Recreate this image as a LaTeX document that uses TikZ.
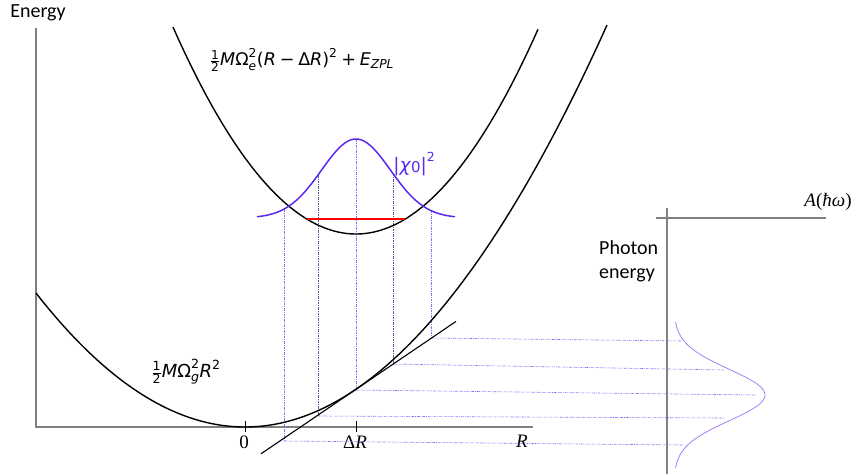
\documentclass[tikz,border=0pt]{standalone}
\usepackage{amsmath}
\usepackage{fontspec}
\setmainfont{Carlito}
\newfontfamily\dv{DejaVu Sans}
\newfontfamily\ser{Liberation Serif}
\newcommand\upt[1]{\text{\dv #1}}
\newcommand\itt[1]{\text{\dv\itshape #1}}
\definecolor{chi}{RGB}{90,40,240}
\definecolor{spec}{RGB}{165,125,250}
\definecolor{dotb}{RGB}{120,120,250}
\definecolor{dotd}{RGB}{90,90,150}
\definecolor{axg}{RGB}{128,128,128}
\tikzset{
  curve/.style={black, line width=1.4pt},
  axisline/.style={axg, line width=1.8pt},
  dotline/.style={dotb, line width=0.6pt, dash pattern=on 2.5pt off 1.2pt on 0.6pt off 1.2pt},
  dotdark/.style={dotd, line width=0.6pt, dash pattern=on 2.5pt off 1.2pt on 0.6pt off 1.2pt},
  lbl/.style={inner sep=0pt, font=\fontsize{20}{24}\selectfont},
  serlbl/.style={inner sep=0pt, font=\ser\fontsize{19}{22}\selectfont},
}
\begin{document}
\begin{tikzpicture}[x=1pt,y=-1pt]
\useasboundingbox (0,0) rectangle (856,474);
% axes
\coordinate (eTop) at (36,28);
\coordinate (origin) at (36,427);
\coordinate (rEnd) at (533,427);
\draw[axisline] (eTop) -- (origin) -- (rEnd);
\node[lbl] (energy) at (38,13) {Energy};
% ticks
\coordinate (t0a) at (245,421); \coordinate (t0b) at (245,432);
\coordinate (t1a) at (356,421); \coordinate (t1b) at (356,432);
\draw[black, line width=1pt] (t0a) -- (t0b) (t1a) -- (t1b);
\node[serlbl] (zero) at (244,442) {0};
\node[serlbl] (dR) at (355,442) {Δ\textit{R}};
\node[serlbl] (Rlab) at (522,441) {\textit{R}};
% dotted projection lines
\coordinate (g1) at (284,209.1); \coordinate (l1) at (284,441); \coordinate (r1) at (682,445);
\coordinate (g2) at (318,175);   \coordinate (l2) at (318,416); \coordinate (r2) at (724,418);
\coordinate (g3) at (356,139);   \coordinate (l3) at (356,390); \coordinate (r3) at (757,395);
\coordinate (g4) at (393,173.6); \coordinate (l4) at (393,364); \coordinate (r4) at (724,370);
\coordinate (g5) at (431,210.6); \coordinate (l5) at (431,338); \coordinate (r5) at (682,341);
\draw[dotline] (g1) -- (l1); \draw[dotline] (l1) -- (r1);
\draw[dotdark] (g2) -- (l2); \draw[dotline] (l2) -- (r2);
\draw[dotline] (g3) -- (l3); \draw[dotline] (l3) -- (r3);
\draw[dotdark] (g4) -- (l4); \draw[dotline] (l4) -- (r4);
\draw[dotline] (g5) -- (l5); \draw[dotline] (l5) -- (r5);
% ground parabola
\draw[curve] plot[domain=36:607, samples=120] ({\x},{427-0.00306*(\x-245)*(\x-245)});
% excited parabola
\draw[curve] plot[domain=173:538, samples=120] ({\x},{234-0.00618*(\x-356)*(\x-356)});
% tangent
\coordinate (tanA) at (261,453.8);
\coordinate (tanB) at (456,321.4);
\draw[black, line width=1.1pt] (tanA) -- (tanB);
% red level
\coordinate (redA) at (306.7,219);
\coordinate (redB) at (405.3,219);
\draw[red, line width=1.3pt] (redA) -- (redB);
% gaussian
\draw[chi, line width=1.5pt] plot[domain=257:455, samples=100] ({\x},{218-79*exp(-(\x-356)*(\x-356)/2374)});
\node[inner sep=0pt, text=chi, font=\dv\fontsize{18.5}{22}\selectfont] (chilab) at (414,164) {|\textit{χ}\raisebox{-0.1em}{\fontsize{15}{16}\selectfont 0}|\raisebox{0.5em}{\fontsize{12.5}{14}\selectfont 2}};
% formulas
\node[inner sep=0pt, font=\fontsize{17.5}{22}\selectfont] (exc) at (302,60)
  {$\frac{\upt{1}}{\upt{2}}\itt{M}\upt{Ω}^{\upt{2}}_{\itt{e}}\upt{(}\itt{R}\mathbin{\upt{−}}\upt{Δ}\itt{R}\upt{)}^{\upt{2}}\mathbin{\upt{+}}\itt{E}_{\itt{ZPL}}$};
\node[inner sep=0pt, font=\fontsize{18}{22}\selectfont] (gnd) at (186,372)
  {$\frac{\upt{1}}{\upt{2}}\itt{M}\upt{Ω}^{\upt{2}}_{\itt{g}}\itt{R}^{\upt{2}}$};
% spectrum axes
\coordinate (pTop) at (667,208);
\coordinate (pBot) at (667,474);
\coordinate (aL) at (656,218);
\coordinate (aR) at (826,218);
\draw[axisline] (pTop) -- (pBot);
\draw[axisline] (aL) -- (aR);
\node[serlbl] (Alab) at (828,202) {\textit{A}(\textit{ħω})};
\node[lbl, align=left, anchor=west] (photon) at (599,261) {Photon\\energy};
% spectrum
\draw[spec, line width=0.8pt] plot[domain=322:468, samples=100] ({674+91*exp(-(\x-395)*(\x-395)/1322)},{\x});
\end{tikzpicture}
\end{document}
